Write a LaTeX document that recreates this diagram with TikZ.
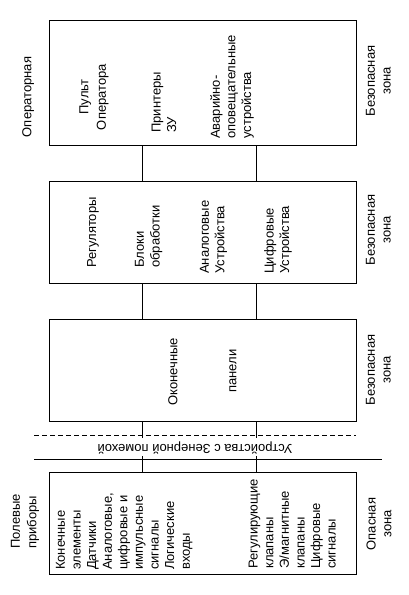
\documentclass[tikz,border=0pt]{standalone}
\usepackage{fontspec}
\setmainfont{Liberation Sans}
\begin{document}
\begin{tikzpicture}[x=1pt,y=-1pt,
  box/.style={draw, line width=0.8pt, minimum width=307pt, inner sep=0pt},
  txt/.style={font=\fontsize{13}{15.6}\selectfont, inner sep=0pt},
  lbl/.style={txt, rotate=90},
  bandlbl/.style={txt, rotate=180},
  conn/.style={line width=0.8pt},
  dashline/.style={line width=0.8pt, dash pattern=on 5pt off 3pt}]
\useasboundingbox (0,0) rectangle (409,595);
% boxes
\node[box, minimum height=124.5pt] (b1) at (202.5,82.75) {};
\node[box, minimum height=102pt] (b2) at (202.5,232.3) {};
\node[box, minimum height=101.7pt] (b3) at (202.5,370.2) {};
\node[box, minimum height=101.7pt] (b4) at (202.5,523.2) {};
% connector columns
\coordinate (c1) at (142.7,0);
\coordinate (c2) at (256,0);
\coordinate (d1) at (142.7,438);
\coordinate (d2) at (256,438);
\coordinate (s1) at (142.7,456);
\coordinate (s2) at (256,456);
\draw[conn] (b1.south -| c1) -- (b2.north -| c1);
\draw[conn] (b1.south -| c2) -- (b2.north -| c2);
\draw[conn] (b2.south -| c1) -- (b3.north -| c1);
\draw[conn] (b2.south -| c2) -- (b3.north -| c2);
\draw[conn] (b3.south -| c1) -- (d1);
\draw[conn] (b3.south -| c2) -- (d2);
\draw[conn] (s1) -- (b4.north -| s1);
\draw[conn] (s2) -- (b4.north -| s2);
% band lines
\coordinate (dl) at (34,435);
\coordinate (dr) at (356,435);
\coordinate (sl) at (34,459.3);
\coordinate (sr) at (382,459.3);
\draw[dashline] (dl) -- (dr);
\draw[conn] (sl) -- (sr);
\node[bandlbl] (band) at (195,448) {Устройства с Зенерной помехой};
% left labels
\node[lbl] (op) at (28.3,97) {Операторная};
\node[lbl, align=left, anchor=west] (pol) at (25,549) {Полевые\\[1pt]приборы};
% right labels
\node[lbl, align=center] (z1) at (378.3,81) {Безопасная\\зона};
\node[lbl, align=center] (z2) at (378.3,230) {Безопасная\\зона};
\node[lbl, align=center] (z3) at (378.3,370) {Безопасная\\зона};
\node[lbl, align=center] (z4) at (379,524) {Опасная\\зона};
% box 1
\node[lbl, align=center] (t11) at (94,97) {Пульт\\[2pt]Оператора};
\node[lbl, align=left, anchor=west] (t12) at (164,133) {Принтеры\\ЗУ};
\node[lbl, align=left, anchor=west] (t13) at (232,139) {Аварийно-\\оповещательные\\устройства};
% box 2
\node[lbl, anchor=west] (t21) at (93,268) {Регуляторы};
\node[lbl, align=left, anchor=west] (t22) at (148.6,268) {Блоки\\обработки};
\node[lbl, align=left, anchor=west] (t23) at (213.5,274) {Аналоговые\\Устройства};
\node[lbl, align=left, anchor=west] (t24) at (278,274) {Цифровые\\Устройства};
% box 3
\node[lbl] (t31) at (173,372) {Оконечные};
\node[lbl] (t32) at (233,371) {панели};
% box 4
\node[lbl, align=left, anchor=west] (t41) at (124.2,570) {Конечные\\элементы\\Датчики\\Аналоговые,\\цифровые и\\импульсные\\сигналы\\Логические\\входы};
\node[lbl, align=left, anchor=west] (t42) at (292.3,569) {Регулирующие\\клапаны\\Э/магнитные\\клапаны\\Цифровые\\сигналы};
\end{tikzpicture}
\end{document}
